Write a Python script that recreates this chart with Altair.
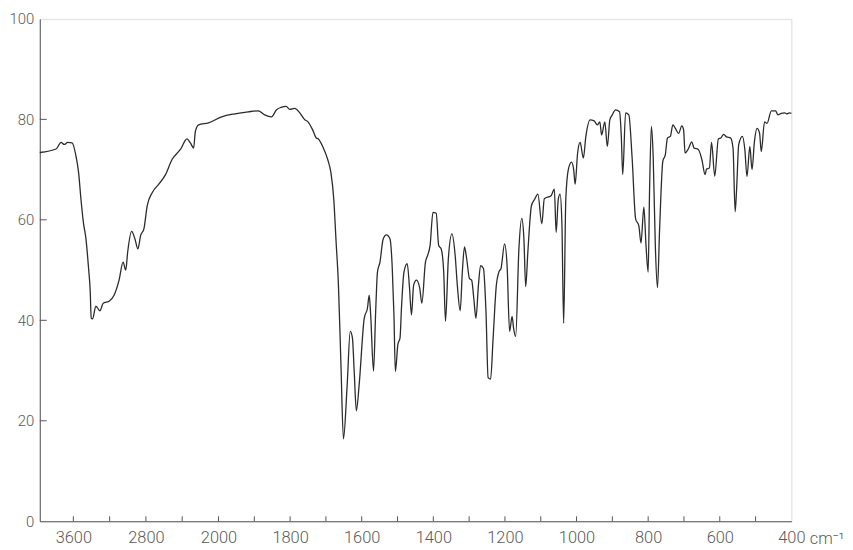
import altair as alt
import pandas as pd

# IR spectrum: wavenumber (cm^-1) and transmittance (%)
wavenumber = [
    3970, 3790, 3735, 3700, 3662, 3614, 3570, 3542, 3516, 3490,
    3461, 3432, 3414, 3403, 3389, 3351, 3307, 3271, 3206, 3151,
    3096, 3052, 3022, 3001, 2957, 2921, 2888, 2858, 2822, 2786,
    2731, 2658, 2584, 2512, 2420, 2347, 2310, 2274, 2255, 2219,
    2110, 1991, 1954, 1917, 1889, 1871, 1852, 1838, 1825, 1811,
    1801, 1787, 1773, 1760, 1750, 1737, 1727, 1721, 1709, 1695,
    1686, 1678, 1672, 1665, 1658, 1651, 1641, 1632, 1626, 1621,
    1615, 1607, 1593, 1584, 1579, 1575, 1567, 1561, 1556, 1549,
    1540, 1531, 1521, 1515, 1510, 1506, 1499, 1493, 1489, 1482,
    1473, 1467, 1461, 1455, 1447, 1438, 1432, 1422, 1416, 1409,
    1401, 1392, 1385, 1378, 1371, 1366, 1358, 1348, 1339, 1333,
    1325, 1319, 1313, 1307, 1299, 1293, 1287, 1281, 1274, 1268,
    1260, 1253, 1247, 1240, 1233, 1224, 1217, 1211, 1201, 1194,
    1187, 1180, 1176, 1170, 1161, 1153, 1147, 1142, 1136, 1126,
    1117, 1108, 1097, 1090, 1071, 1062, 1057, 1051, 1046, 1041,
    1036, 1030, 1023, 1014, 1008, 1004, 997, 990, 981, 974,
    962, 951, 942, 935, 930, 921, 914, 907, 900, 891,
    880, 875, 871, 863, 854, 845, 835, 826, 820, 812,
    806, 800, 796, 791, 786, 780, 774, 768, 759, 752,
    746, 738, 731, 724, 715, 706, 701, 697, 688, 678,
    672, 660, 650, 641, 637, 629, 623, 614, 604, 597,
    589, 581, 570, 563, 557, 553, 547, 537, 530, 524,
    516, 510, 503, 496, 489, 484, 475, 468, 456, 444,
    438, 428, 419, 413, 405, 400,
]
transmittance = [
    73.4, 74.1, 75.4, 75.0, 75.4, 75.3, 72.6, 69.4, 64.1, 59.6,
    56.2, 50.3, 45.8, 40.4, 40.3, 42.8, 41.9, 43.4, 43.8, 45.0,
    48.0, 51.6, 50.0, 53.6, 57.7, 56.2, 54.2, 56.9, 58.2, 62.8,
    65.4, 67.1, 69.0, 72.0, 74.0, 76.1, 75.3, 74.3, 77.6, 78.9,
    79.3, 80.5, 81.1, 81.5, 81.7, 80.9, 80.5, 81.9, 82.4, 82.6,
    82.0, 82.2, 81.3, 80.0, 79.5, 77.9, 76.3, 76.1, 74.6, 72.0,
    69.4, 64.1, 56.2, 47.0, 31.2, 16.4, 26.6, 37.8, 36.5, 29.9,
    22.0, 27.3, 40.4, 42.4, 45.0, 41.1, 29.9, 41.8, 49.6, 51.6,
    56.2, 57.0, 56.2, 50.9, 41.1, 29.8, 35.2, 36.5, 42.4, 49.6,
    51.3, 47.0, 41.1, 47.0, 48.0, 46.4, 43.4, 51.6, 52.9, 54.9,
    61.5, 61.3, 54.9, 54.2, 49.6, 39.8, 52.3, 57.2, 52.9, 47.0,
    41.9, 49.6, 54.6, 52.3, 48.3, 48.0, 44.4, 40.4, 47.0, 50.9,
    50.3, 41.8, 28.6, 28.3, 36.5, 47.0, 49.6, 50.3, 55.2, 50.9,
    37.8, 40.8, 38.5, 36.8, 54.2, 60.3, 56.2, 46.7, 53.6, 62.8,
    64.1, 65.1, 59.2, 64.2, 64.8, 66.1, 57.5, 64.1, 65.1, 59.5,
    39.4, 64.1, 70.0, 71.5, 70.0, 67.1, 73.3, 75.4, 72.3, 76.6,
    79.9, 79.7, 78.9, 79.5, 76.9, 79.5, 74.6, 79.9, 80.9, 81.9,
    81.5, 76.6, 69.0, 81.3, 80.9, 72.6, 60.2, 58.8, 55.4, 62.5,
    54.9, 49.6, 66.1, 78.6, 72.6, 54.9, 46.5, 58.2, 71.7, 73.0,
    76.3, 76.6, 78.9, 78.2, 77.2, 78.7, 77.9, 73.3, 74.1, 75.5,
    74.3, 74.0, 72.0, 69.0, 70.1, 70.3, 75.4, 68.7, 76.1, 76.3,
    77.0, 76.5, 76.3, 74.3, 61.6, 66.1, 75.0, 76.6, 74.0, 68.6,
    74.6, 70.0, 75.7, 78.2, 77.3, 73.6, 79.5, 79.2, 81.7, 81.7,
    80.9, 81.2, 81.3, 81.1, 81.3, 81.2,
]

x_labels = [3600, 2800, 2000, 1800, 1600, 1400, 1200, 1000, 800, 600, 400]
x_ticks = [3600, 3200, 2800, 2400, 2000, 1900, 1800, 1700, 1600, 1500,
           1400, 1300, 1200, 1100, 1000, 900, 800, 700, 600, 500]
y_labels = [0, 20, 40, 60, 80, 100]
y_ticks = [20, 40, 60, 80]

W, H = 757, 506
FONT = "Roboto"
TXT = "#5a5a5a"
FRAME = "#555555"

spec = pd.DataFrame({"wn": wavenumber, "t": transmittance})
xt = pd.DataFrame({"wn": x_ticks})
yt = pd.DataFrame({"t": y_ticks})

xscale = alt.Scale(domain=[3970, 2000, 400], range=[0, 180, W], nice=False, zero=False)
yscale = alt.Scale(domain=[0, 100], nice=False, zero=False)

x_axis = alt.Axis(values=x_labels, format="d", ticks=False, grid=False,
                  domainColor=FRAME, labelFont=FONT, labelFontSize=16.5,
                  labelFontWeight=300, labelColor=TXT, labelPadding=8,
                  labelFlush=False, labelOverlap=False,
                  title="cm⁻¹", titleFont=FONT, titleFontSize=16.5,
                  titleFontWeight=300, titleColor=TXT, titleX=W + 18,
                  titleY=22, titleAlign="left", titleBaseline="alphabetic",
                  titleAnchor="start")
y_axis = alt.Axis(values=y_labels, ticks=False, grid=False,
                  domainColor=FRAME, labelFont=FONT, labelFontSize=15,
                  labelFontWeight=300, labelColor=TXT, labelPadding=6,
                  labelFlush=False, labelOverlap=False, title=None)

line = alt.Chart(spec).mark_line(color="#2b2b2b", strokeWidth=1.3, interpolate="monotone").encode(
    x=alt.X("wn:Q", scale=xscale, axis=x_axis),
    y=alt.Y("t:Q", scale=yscale, axis=y_axis),
    order="wn:Q",
)

xtick_marks = alt.Chart(xt).mark_rule(color=FRAME, strokeWidth=1).encode(
    x=alt.X("wn:Q", scale=xscale, axis=x_axis),
    y=alt.value(H - 5),
    y2=alt.value(H),
)

ytick_marks = alt.Chart(yt).mark_rule(color=FRAME, strokeWidth=1).encode(
    y=alt.Y("t:Q", scale=yscale, axis=y_axis),
    x=alt.value(0),
    x2=alt.value(7),
)

chart = alt.layer(line, xtick_marks, ytick_marks).properties(
    width=W, height=H,
    padding={"left": 32, "top": 9, "right": 54, "bottom": 28},
    autosize=alt.AutoSizeParams(type="none"),
).configure_view(stroke=FRAME, strokeWidth=1).configure(background="white")

chart.save("out.html", embed_options={"renderer": "svg", "actions": False})
